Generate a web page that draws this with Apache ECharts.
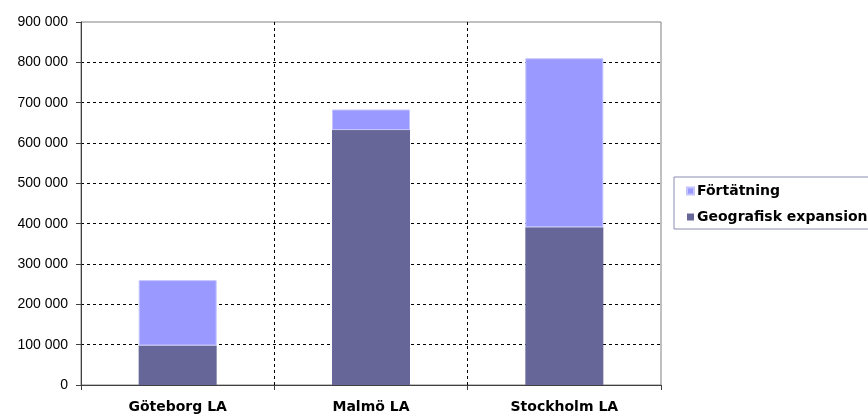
<!DOCTYPE html>
<html>
<head>
<meta charset="utf-8">
<script src="https://cdn.jsdelivr.net/npm/echarts@6/dist/echarts.min.js"></script>
<style>
  html, body { margin: 0; padding: 0; background: #fff; }
  #chart { width: 868px; height: 414px; }
</style>
</head>
<body>
<div id="chart"></div>
<script>
// Befolkningstillväxt per storstadsområde, uppdelad på typ
const categories = ['Göteborg LA', 'Malmö LA', 'Stockholm LA'];
const seriesNames = ['Förtätning', 'Geografisk expansion'];
const expansion = [98000, 632000, 391000];
const fortatning = [162000, 51000, 419000];
const yMin = 0;
const yMax = 900000;
const yStep = 100000;

function fmt(v) {
  return String(v).replace(/\B(?=(\d{3})+(?!\d))/g, ' ');
}

const chart = echarts.init(document.getElementById('chart'));
chart.setOption({
  animation: false,
  backgroundColor: '#ffffff',
  grid: {
    left: 81, right: 207, top: 22, bottom: 29,
    show: true, borderColor: '#808080', borderWidth: 1
  },
  legend: {
    orient: 'vertical',
    left: 674, top: 177,
    padding: [7, 30, 5, 12],
    itemGap: 12,
    itemWidth: 7, itemHeight: 7,
    borderColor: '#8c8cb4', borderWidth: 1,
    icon: 'rect',
    data: seriesNames,
    textStyle: { fontFamily: 'DejaVu Sans', fontWeight: 'bold', fontSize: 14, color: '#000', padding: [0, 0, 0, -2] }
  },
  xAxis: {
    type: 'category',
    data: categories,
    boundaryGap: true,
    axisLine: { lineStyle: { color: '#404040', width: 1 } },
    axisTick: { show: true, length: 5, alignWithLabel: false, lineStyle: { color: '#404040' } },
    axisLabel: { margin: 15, fontFamily: 'DejaVu Sans', fontWeight: 'bold', fontSize: 14, color: '#000' },
    splitLine: { show: true, showMinLine: false, showMaxLine: false, lineStyle: { color: '#000', type: [3, 3], width: 1 } }
  },
  yAxis: {
    type: 'value',
    min: yMin, max: yMax, interval: yStep,
    axisLine: { show: true, lineStyle: { color: '#404040', width: 1 } },
    axisTick: { show: true, length: 5, lineStyle: { color: '#404040' } },
    axisLabel: { margin: 13, fontFamily: 'Liberation Sans', fontSize: 14, color: '#000', formatter: fmt },
    splitLine: { show: true, showMinLine: false, showMaxLine: false, lineStyle: { color: '#000', type: [3, 3], width: 1 } }
  },
  series: [
    {
      name: 'Geografisk expansion',
      type: 'bar',
      stack: 'total',
      barWidth: 78,
      data: expansion,
      itemStyle: { color: '#666699' }
    },
    {
      name: 'Förtätning',
      type: 'bar',
      stack: 'total',
      barWidth: 78,
      data: fortatning,
      itemStyle: { color: '#9999ff', borderColor: '#c4c4ff', borderWidth: 1 }
    }
  ]
});
</script>
</body>
</html>
